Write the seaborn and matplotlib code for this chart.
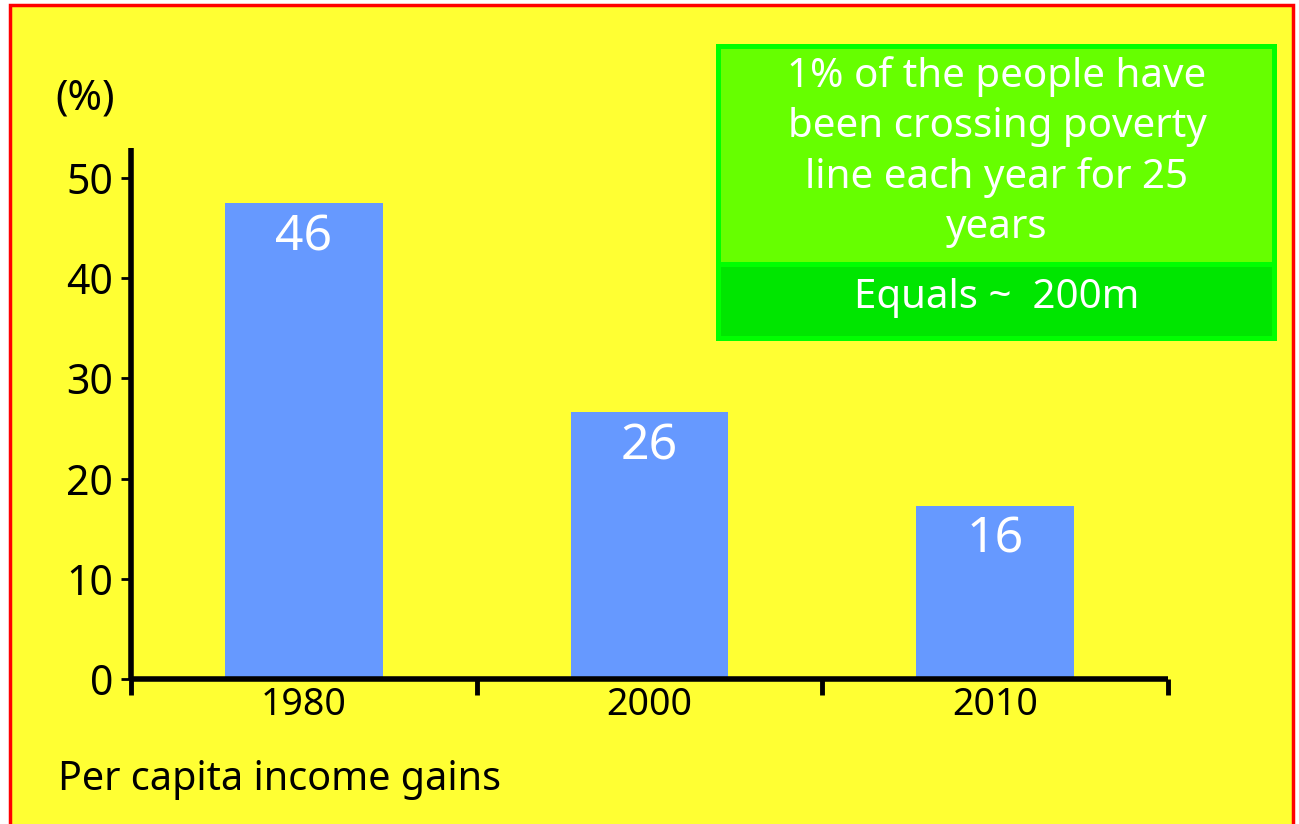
import matplotlib
matplotlib.use("Agg")
import matplotlib.pyplot as plt
from matplotlib.patches import Rectangle
import seaborn as sns
import pandas as pd

years = ["1980", "2000", "2010"]
values = [47.5, 26.6, 17.3]
bar_labels = ["46", "26", "16"]
yticks = [0, 10, 20, 30, 40, 50]
box_text = "1% of the people have\nbeen crossing poverty\nline each year for 25\nyears"
box_text2 = "Equals ~  200m"
ylabel = "(%)"
xlabel = "Per capita income gains"

sns.set_style("white")
plt.rcParams['font.family'] = ['Noto Sans', 'DejaVu Sans']
plt.rcParams['text.color'] = 'black'
plt.rcParams['xtick.color'] = 'black'
plt.rcParams['ytick.color'] = 'black'

W, H = 1299, 824
fig = plt.figure(figsize=(W / 100, H / 100), dpi=100, facecolor="white")

def fx(px):
    return px / W

def fy(py):
    return 1 - py / H

# yellow panel with red border
fig.patches.append(Rectangle((fx(10), fy(840)), fx(1293) - fx(10), fy(5) - fy(840),
                             transform=fig.transFigure, facecolor="#FFFF33",
                             edgecolor="#FF0000", linewidth=2.5, zorder=0))

ax = fig.add_axes([fx(131), fy(679), fx(1168) - fx(131), fy(148) - fy(679)])
ax.set_zorder(5)
ax.set_facecolor("none")
ax.patch.set_alpha(0)
df = pd.DataFrame({"year": years, "value": values})
sns.barplot(data=df, x="year", y="value", color="#6699FF", width=0.457,
            saturation=1, edgecolor="none", linewidth=0, ax=ax)
ax.set_xlim(-0.5, 2.5)
ax.set_ylim(0, 53)
ax.set_yticks(yticks)
ax.set_yticklabels([str(t) for t in yticks], fontsize=29.5)
ax.set_xticks(range(len(years)))
ax.set_xticklabels(years, fontsize=27)
ax.set_xticks([-0.5, 0.5, 1.5, 2.5], minor=True)
ax.tick_params(axis="x", which="major", length=0, pad=5)
ax.tick_params(axis="x", which="minor", length=11.5, width=3.5, direction="out", color="black", bottom=True)
ax.tick_params(axis="y", which="major", length=7, width=2, direction="out", pad=6, color="black", left=True)
ax.set_xlabel("")
ax.set_ylabel("")
for s in ["top", "right"]:
    ax.spines[s].set_visible(False)
for s in ["left", "bottom"]:
    ax.spines[s].set_linewidth(4)
    ax.spines[s].set_color("black")
    ax.spines[s].set_capstyle("butt")

for i, (v, lab) in enumerate(zip(values, bar_labels)):
    ax.annotate(lab, (i, v), xytext=(0, -34), textcoords="offset points",
                ha="center", va="baseline", color="white", fontsize=36)

fig.text(fx(85), fy(99), ylabel, ha="center", va="center", fontsize=30)
fig.text(fx(58), fy(780), xlabel, ha="left", va="center", fontsize=28.5)

# info box
fig.patches.append(Rectangle((fx(716), fy(341)), fx(1277) - fx(716), fy(44) - fy(341),
                             transform=fig.transFigure, facecolor="#00FF00",
                             edgecolor="none", zorder=1))
fig.patches.append(Rectangle((fx(721), fy(262)), fx(1272) - fx(721), fy(49) - fy(262),
                             transform=fig.transFigure, facecolor="#66FF00",
                             edgecolor="none", zorder=2))
fig.patches.append(Rectangle((fx(721), fy(336)), fx(1272) - fx(721), fy(267) - fy(336),
                             transform=fig.transFigure, facecolor="#00E600",
                             edgecolor="none", zorder=2))
fig.text(fx(997), fy(152), box_text, ha="center", va="center", color="white",
         fontsize=29, linespacing=1.34, zorder=3)
fig.text(fx(997), fy(298), box_text2, ha="center", va="center", color="white",
         fontsize=29, zorder=3)

fig.savefig("out.png", dpi=100, facecolor="white")
